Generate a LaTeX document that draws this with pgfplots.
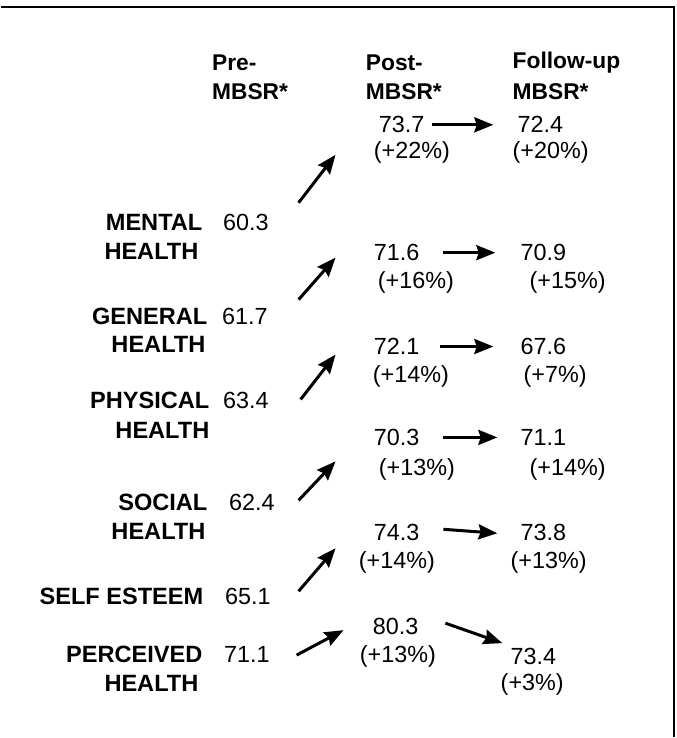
\documentclass[border=0pt]{standalone}
\usepackage{pgfplots}
\pgfplotsset{compat=1.18}
\usepackage{fontspec}
\setmainfont{Liberation Sans}
\usetikzlibrary{arrows.meta}
\begin{document}
\begin{tikzpicture}
\begin{axis}[scale only axis, width=338pt, height=369pt,
  xmin=0, xmax=676, ymin=0, ymax=738, y dir=reverse,
  hide axis, clip=false,
  myarrow/.style={black, solid, line width=1.5pt, mark=none,
    -{Stealth[length=9.5pt,width=7.5pt,inset=1.2pt]}}]
\path (rel axis cs:0,0) rectangle (rel axis cs:1,1);
\draw[line width=1pt] (axis cs:0,7) -- (axis cs:674,7) -- (axis cs:674,738);
% headers
\begin{scope}[every node/.style={font=\bfseries\fontsize{11.4}{13}\selectfont, anchor=west, inner sep=0pt}]
\node at (axis cs:211,63) {Pre-};
\node at (axis cs:211,92) {MBSR*};
\node at (axis cs:365,63) {Post-};
\node at (axis cs:365,92) {MBSR*};
\node at (axis cs:512,63) {Follow-up};
\node at (axis cs:512,92) {MBSR*};
\end{scope}
% row labels
\begin{scope}[every node/.style={font=\bfseries\fontsize{11.8}{13}\selectfont, anchor=east, inner sep=0pt}]
\node at (axis cs:202,223) {MENTAL};
\node at (axis cs:198,252) {HEALTH};
\node at (axis cs:207,317) {GENERAL};
\node at (axis cs:205,345) {HEALTH};
\node at (axis cs:209,401) {PHYSICAL};
\node at (axis cs:209,431) {HEALTH};
\node at (axis cs:207,503) {SOCIAL};
\node at (axis cs:205,532) {HEALTH};
\node at (axis cs:203,597) {SELF ESTEEM};
\node at (axis cs:202,655) {PERCEIVED};
\node at (axis cs:198,684) {HEALTH};
\end{scope}
% pre values
\begin{scope}[every node/.style={font=\fontsize{11.7}{13}\selectfont, anchor=west, inner sep=0pt}]
\node at (axis cs:222,223) {60.3};
\node at (axis cs:221,317) {61.7};
\node at (axis cs:222,401) {63.4};
\node at (axis cs:228,503) {62.4};
\node at (axis cs:224,597) {65.1};
\node at (axis cs:223,655) {71.1};
% post values
\node at (axis cs:378,125) {73.7};
\node at (axis cs:373,153) {(+22\%)};
\node at (axis cs:373,253) {71.6};
\node at (axis cs:377,283) {(+16\%)};
\node at (axis cs:373,347) {72.1};
\node at (axis cs:372,377) {(+14\%)};
\node at (axis cs:373,438) {70.3};
\node at (axis cs:378,470) {(+13\%)};
\node at (axis cs:373,533) {74.3};
\node at (axis cs:358,563) {(+14\%)};
\node at (axis cs:372,627) {80.3};
\node at (axis cs:359,657) {(+13\%)};
% follow-up values
\node at (axis cs:517,125) {72.4};
\node at (axis cs:512,153) {(+20\%)};
\node at (axis cs:520,253) {70.9};
\node at (axis cs:529,283) {(+15\%)};
\node at (axis cs:520,347) {67.6};
\node at (axis cs:523,377) {(+7\%)};
\node at (axis cs:520,438) {71.1};
\node at (axis cs:529,470) {(+14\%)};
\node at (axis cs:520,533) {73.8};
\node at (axis cs:510,563) {(+13\%)};
\node at (axis cs:510,657) {73.4};
\node at (axis cs:500,685) {(+3\%)};
\end{scope}
% arrows pre -> post
\addplot[myarrow] coordinates {(298,203) (335,155)};
\addplot[myarrow] coordinates {(298,300) (335,258)};
\addplot[myarrow] coordinates {(300,400) (335,355)};
\addplot[myarrow] coordinates {(298,501) (335,462)};
\addplot[myarrow] coordinates {(298,592) (335,549)};
\addplot[myarrow] coordinates {(296,656) (343,631)};
% arrows post -> follow-up
\addplot[myarrow] coordinates {(432,125) (493,125)};
\addplot[myarrow] coordinates {(443,253) (495,253)};
\addplot[myarrow] coordinates {(440,347) (493,347)};
\addplot[myarrow] coordinates {(443,438) (497,438)};
\addplot[myarrow] coordinates {(443,530) (497,534)};
\addplot[myarrow] coordinates {(445,624) (502,644)};
\end{axis}
\end{tikzpicture}
\end{document}
